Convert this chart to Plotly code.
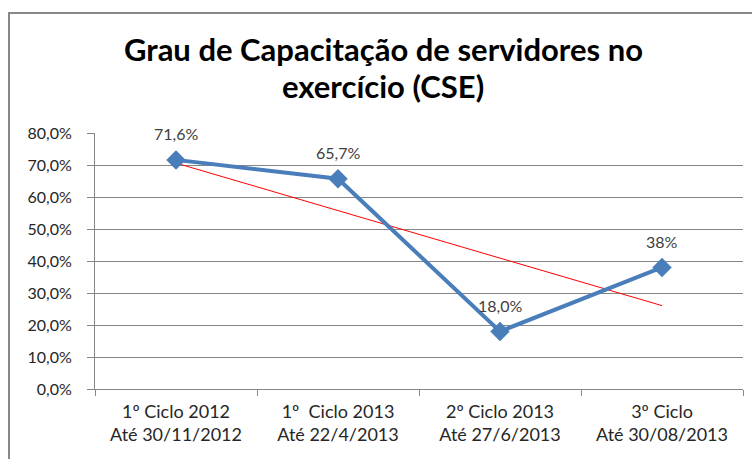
import numpy as np
import plotly.graph_objects as go

categories = ["1º Ciclo 2012<br>Até 30/11/2012", "1º  Ciclo 2013<br>Até 22/4/2013",
              "2º Ciclo 2013<br>Até 27/6/2013", "3º Ciclo<br>Até 30/08/2013"]
values = [0.716, 0.657, 0.180, 0.38]
labels = ["71,6%", "65,7%", "18,0%", "38%"]
title_lines = ["Grau de Capacitação de servidores no", "exercício (CSE)"]

xi = np.arange(len(values))
slope, intercept = np.polyfit(xi, values, 1)
trend = [slope * x + intercept for x in xi]

FONT = "Lato"
fig = go.Figure()
fig.add_trace(go.Scatter(x=categories, y=trend, mode="lines",
                         line=dict(color="#FF0000", width=1), hoverinfo="skip"))
fig.add_trace(go.Scatter(x=categories, y=values, mode="lines+markers",
                         line=dict(color="#4A7EBB", width=4),
                         marker=dict(symbol="diamond", size=15, color="#4A7EBB")))

annotations = []
for c, v, t in zip(categories, values, labels):
    annotations.append(dict(x=c, y=v, text=t, showarrow=False, yshift=26,
                            xanchor="center", yanchor="middle",
                            font=dict(family=FONT, size=16, color="#404040")))
title_y = [1.33, 1.185]
for line, ty in zip(title_lines, title_y):
    annotations.append(dict(x=0.445, y=ty, xref="paper", yref="paper", text="<b>" + line + "</b>",
                            showarrow=False, xanchor="center", yanchor="middle",
                            font=dict(family=FONT, size=31, color="#000000")))

fig.update_layout(
    width=752, height=459,
    margin=dict(l=95, r=9, t=133, b=70),
    paper_bgcolor="white", plot_bgcolor="white",
    showlegend=False,
    separators=",.",
    font=dict(family=FONT, size=16, color="#262626"),
    annotations=annotations,
    xaxis=dict(type="category", range=[-0.5, 3.5], tickson="boundaries",
               ticks="outside", ticklen=6, tickcolor="#868686",
               showline=True, linecolor="#868686", linewidth=1,
               ticklabelstandoff=6,
               showgrid=False, tickfont=dict(family=FONT, size=18, color="#262626")),
    yaxis=dict(range=[0, 0.8], dtick=0.1, tickformat=".1%",
               ticks="outside", ticklen=7, tickcolor="#868686",
               showline=True, linecolor="#868686", linewidth=1,
               ticklabelstandoff=12,
               showgrid=True, gridcolor="#868686", gridwidth=1,
               zeroline=False, tickfont=dict(family=FONT, size=16, color="#262626")),
    shapes=[dict(type="rect", xref="paper", yref="paper",
                 x0=-0.1327, x1=1.2, y0=-0.5, y1=1.469,
                 line=dict(color="#888888", width=2), layer="below")],
)
fig.write_html("out.html", config={"displayModeBar": False})

with open("out.html", encoding="utf-8") as f:
    html = f.read()
html = html.replace("<head>", "<head><style>html,body{margin:0;padding:0;overflow:hidden}</style>", 1)
with open("out.html", "w", encoding="utf-8") as f:
    f.write(html)
